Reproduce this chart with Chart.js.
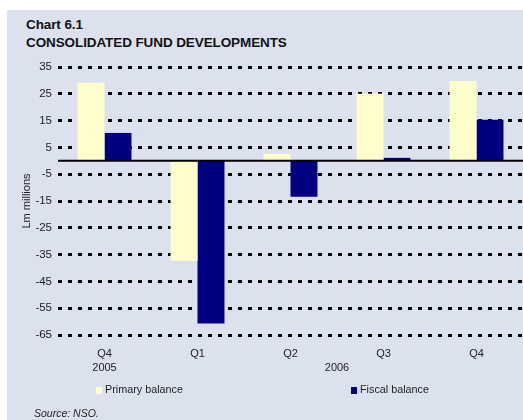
<!DOCTYPE html>
<html>
<head>
<meta charset="utf-8">
<script src="https://cdn.jsdelivr.net/npm/chart.js@4/dist/chart.umd.min.js"></script>
<style>
  body { margin: 0; background: #fff; font-family: "Liberation Sans", Arial, sans-serif; }
  #wrap { position: relative; width: 523px; height: 420px; }
  #panel { position: absolute; left: 7px; top: 10px; width: 516px; height: 410px; background: #dce1ee; }
  #chart { position: absolute; left: 0; top: 0; }
  .title { position: absolute; left: 26px; font-weight: bold; font-size: 13.5px; color: #111; letter-spacing: -0.1px; }
  .legend { position: absolute; top: 383px; font-size: 10.8px; color: #222; }
  .legend span.box { display: inline-block; width: 6px; height: 7px; margin-right: 3px; vertical-align: -1px; }
  #source { position: absolute; left: 34px; top: 407px; font-size: 10.5px; font-style: italic; color: #222; }
</style>
</head>
<body>
<div id="wrap">
  <div id="panel"></div>
  <div class="title" style="top:17px">Chart 6.1</div>
  <div class="title" style="top:35px">CONSOLIDATED FUND DEVELOPMENTS</div>
  <canvas id="chart" width="523" height="420"></canvas>
  <div id="legend"></div>
  <div id="source">Source: NSO.</div>
</div>
<script>
'use strict';

var quarters = ["Q4", "Q1", "Q2", "Q3", "Q4"];
var years = [
    { label: "2005", from: 0, to: 0 },
    { label: "2006", from: 1, to: 4 }
];
var primaryBalance = [29.1, -37.3, 2.6, 25.0, 29.8];
var fiscalBalance  = [10.4, -60.7, -13.4, 1.1, 15.3];
var legendX = [96, 351];

var textColor = '#222';

var extraLines = {
    id: 'extraLines',
    afterDatasetsDraw: function (chart) {
        var ctx = chart.ctx;
        var y = chart.scales.y.getPixelForValue(0);
        ctx.save();
        ctx.strokeStyle = '#000';
        ctx.lineWidth = 2;
        ctx.beginPath();
        ctx.moveTo(chart.chartArea.left, y);
        ctx.lineTo(chart.chartArea.right, y);
        ctx.stroke();
        ctx.restore();
    },
    afterDraw: function (chart) {
        var ctx = chart.ctx;
        var xs = chart.scales.x;
        ctx.save();
        ctx.fillStyle = textColor;
        ctx.font = '11px "Liberation Sans", Arial, sans-serif';
        ctx.textAlign = 'center';
        ctx.textBaseline = 'middle';
        years.forEach(function (yr) {
            var x = (xs.getPixelForValue(yr.from) + xs.getPixelForValue(yr.to)) / 2;
            ctx.fillText(yr.label, x, 368);
        });
        ctx.restore();
    }
};

var chart = new Chart(document.getElementById('chart'), {
    type: 'bar',
    data: {
        labels: quarters,
        datasets: [
            {
                label: "Primary balance",
                data: primaryBalance,
                backgroundColor: '#ffffcc',
                borderWidth: 0
            },
            {
                label: "Fiscal balance",
                data: fiscalBalance,
                backgroundColor: '#000080',
                borderWidth: 0
            }
        ]
    },
    options: {
        responsive: false,
        animation: false,
        layout: { padding: { left: 0, right: 0, top: 67, bottom: 45 } },
        datasets: {
            bar: { barPercentage: 1, categoryPercentage: 0.58 }
        },
        plugins: {
            legend: { display: false },
            tooltip: { enabled: false }
        },
        scales: {
            x: {
                grid: { display: false },
                border: { display: false },
                ticks: {
                    color: textColor,
                    font: { family: '"Liberation Sans", Arial, sans-serif', size: 11 },
                    padding: 4
                },
                afterFit: function (scale) { scale.height = 40; }
            },
            y: {
                min: -65,
                max: 35,
                ticks: {
                    stepSize: 10,
                    color: textColor,
                    padding: 6,
                    font: { family: '"Liberation Sans", Arial, sans-serif', size: 11.5 }
                },
                grid: {
                    color: '#000',
                    lineWidth: 3,
                    drawTicks: false
                },
                border: { display: false, dash: [4, 6] },
                title: {
                    display: true,
                    text: 'Lm millions',
                    color: textColor,
                    font: { family: '"Liberation Sans", Arial, sans-serif', size: 11 },
                    padding: { top: 20, bottom: 0 }
                },
                afterFit: function (scale) { scale.width = 58; }
            }
        }
    },
    plugins: [extraLines]
});

var legend = document.getElementById('legend');
chart.data.datasets.forEach(function (ds, i) {
    var item = document.createElement('div');
    item.className = 'legend';
    item.style.left = legendX[i] + 'px';
    item.innerHTML = '<span class="box" style="background:' + ds.backgroundColor + '"></span>' + ds.label;
    legend.appendChild(item);
});
</script>
</body>
</html>
